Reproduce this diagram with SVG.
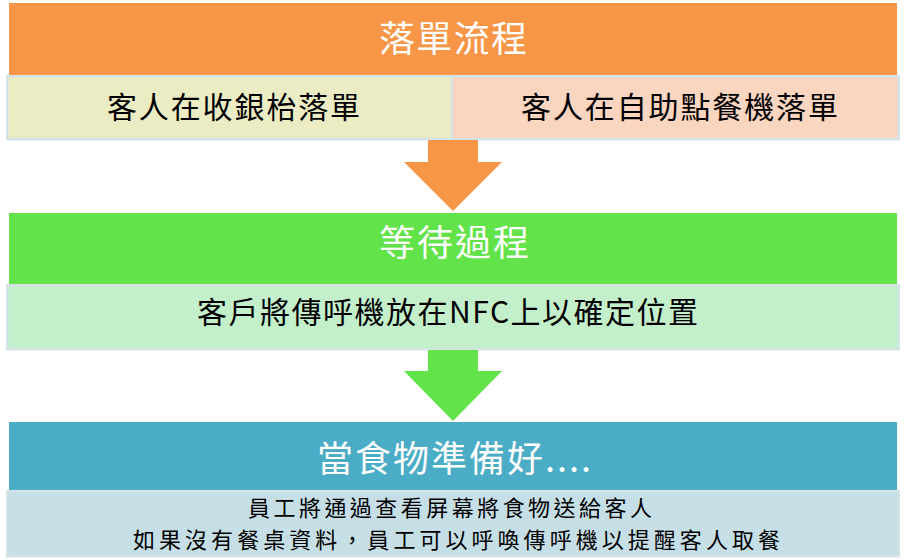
<svg xmlns="http://www.w3.org/2000/svg" width="906" height="560" viewBox="0 0 906 560">
<style>
text{font-family:"Noto Sans CJK TC","Noto Sans CJK SC",sans-serif;}
.title{fill:#ffffff;font-size:36px;}
.sub{fill:#000000;font-size:30px;}
.small{fill:#000000;font-size:22px;}
.frame{fill:none;stroke:#D4E3E8;stroke-width:2.5;}
</style>
<rect width="906" height="560" fill="#ffffff"/>
<g id="order">
<rect x="9" y="3" width="888" height="72" fill="#F79646"/>
<text class="title" x="379" y="52" textLength="148" lengthAdjust="spacing">落單流程</text>
</g>
<g id="order-cashier">
<rect x="8" y="77" width="444" height="62" fill="#EBECC3"/>
<text class="sub" x="107" y="118" textLength="253" lengthAdjust="spacing">客人在收銀枱落單</text>
</g>
<g id="order-kiosk">
<rect x="452" y="77" width="446" height="62" fill="#FAD5C0"/>
<text class="sub" x="521" y="118" textLength="317" lengthAdjust="spacing">客人在自助點餐機落單</text>
</g>
<rect class="frame" x="7.2" y="76.2" width="891.6" height="63"/>
<rect x="451" y="77" width="2" height="62" fill="#D4E3E8"/>
<g id="wait">
<rect x="9" y="213" width="888" height="71" fill="#62E34A"/>
<text class="title" x="379" y="256" textLength="150" lengthAdjust="spacing">等待過程</text>
</g>
<g id="wait-detail">
<rect x="8" y="285" width="890" height="64" fill="#C4EFCB"/>
<rect class="frame" x="7.2" y="285.2" width="891.6" height="64"/>
<text class="sub" x="197" y="323" textLength="501" lengthAdjust="spacing">客戶將傳呼機放在NFC上以確定位置</text>
</g>
<g id="ready">
<rect x="9" y="422" width="888" height="69" fill="#4BACC6"/>
<text class="title" x="317" y="472" textLength="274" lengthAdjust="spacing">當食物準備好....</text>
</g>
<g id="ready-detail">
<rect x="8" y="491" width="890" height="65" fill="#C6DEE6"/>
<rect class="frame" x="7.2" y="491.2" width="891.6" height="65"/>
<text class="small" x="248" y="516" textLength="404" lengthAdjust="spacing">員工將通過查看屏幕將食物送給客人</text>
<text class="small" x="133" y="548" textLength="647" lengthAdjust="spacing">如果沒有餐桌資料，員工可以呼喚傳呼機以提醒客人取餐</text>
</g>
<g id="connectors">
<polygon points="428,140 478,140 478,162 502,162 453,211 404,162 428,162" fill="#F79646"/>
<polygon points="428,350 478,350 478,371 502,371 453,421 404,371 428,371" fill="#62E34A"/>
</g>
</svg>
